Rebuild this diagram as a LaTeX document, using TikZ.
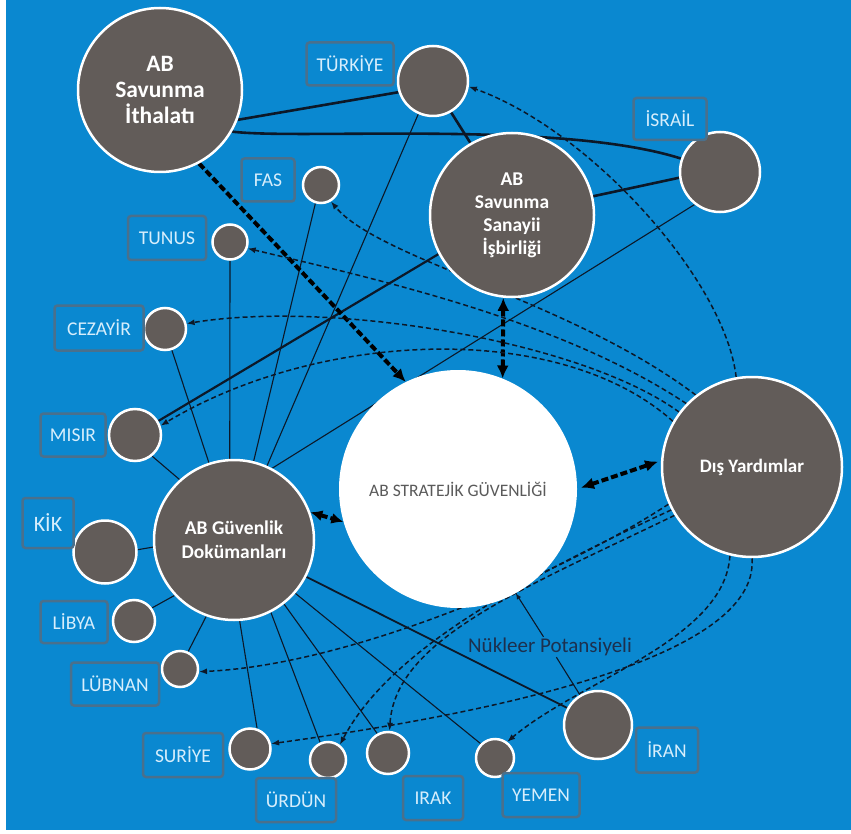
\documentclass[tikz,border=0pt]{standalone}
\usepackage{fontspec}
\setmainfont{Carlito}
\usetikzlibrary{arrows.meta}
\pgfdeclarelayer{back}
\pgfdeclarelayer{edges}
\pgfsetlayers{back,edges,main}
\definecolor{bgblue}{RGB}{10,136,208}
\definecolor{diskfill}{RGB}{98,92,89}
\definecolor{ink}{RGB}{12,24,40}
\definecolor{boxline}{RGB}{74,112,140}
\definecolor{boxtext}{RGB}{215,238,252}
\definecolor{nuktext}{RGB}{28,48,78}
\definecolor{ctext}{RGB}{90,90,90}
\begin{document}
\begin{tikzpicture}[x=1pt,y=-1pt,
  disk/.style={circle, fill=diskfill, draw=white, line width=2.5pt, inner sep=0pt, minimum size=#1},
  bigdisk/.style={disk=#1, text=white, align=center},
  tag/.style={rectangle, rounded corners=3pt, draw=boxline, line width=2.5pt, fill=bgblue, text=boxtext,
    font=\fontsize{19.5}{22}\selectfont, minimum height=43pt, inner sep=0pt},
  thinline/.style={draw=ink, line width=1.1pt},
  thickline/.style={draw=ink, line width=2.6pt},
  bigdash/.style={draw=black, line width=4pt, dash pattern=on 7pt off 3pt},
  smalldash/.style={draw=ink, line width=1.5pt, dash pattern=on 5pt off 3pt, -{Latex[length=8pt,width=6pt]}}
]
\useasboundingbox (0,0) rectangle (851,834);
\begin{pgfonlayer}{back}
\fill[bgblue] (6,0) rectangle (851,830);
\end{pgfonlayer}

% main circles
\node[bigdisk=164pt, font=\bfseries\fontsize{23.5}{26}\selectfont] (IT) at (160,90) {AB\\Savunma\\İthalatı};
\node[bigdisk=164pt, font=\bfseries\fontsize{19.5}{23}\selectfont] (SS) at (512,215) {AB\\Savunma\\Sanayii\\İşbirliği};
\node[bigdisk=160pt, font=\bfseries\fontsize{19.5}{24}\selectfont] (GD) at (234,540) {AB Güvenlik\\Dokümanları};
\node[bigdisk=180pt, font=\bfseries\fontsize{19}{22}\selectfont] (DY) at (752,467) {Dış Yardımlar};
\node[circle, fill=white, minimum size=238pt, inner sep=0pt, text=ctext, font=\fontsize{17.5}{20}\selectfont] (C) at (458,489) {AB STRATEJİK GÜVENLİĞİ};

% country circles
\node[disk=70pt] (TR) at (433,81) {};
\node[disk=80pt] (IS) at (720,172) {};
\node[disk=36pt] (FA) at (321,185) {};
\node[disk=35pt] (TU) at (230,242) {};
\node[disk=42pt] (CZ) at (165,329) {};
\node[disk=52pt] (MS) at (135,435) {};
\node[disk=63pt] (KK) at (105,552) {};
\node[disk=42pt] (LB) at (134,621) {};
\node[disk=36pt] (LU) at (180,669) {};
\node[disk=41pt] (SU) at (250,749) {};
\node[disk=36pt] (UR) at (328,760) {};
\node[disk=42pt] (IK) at (388,753) {};
\node[disk=38pt] (YE) at (495,758) {};
\node[disk=68pt] (IR) at (598,725) {};

% labels
\node[tag, minimum width=87pt] (tTR) at (350,64) {TÜRKİYE};
\node[tag, minimum width=73pt, minimum height=42pt] (tIS) at (670,119) {İSRAİL};
\node[tag, minimum width=53pt] (tFA) at (268,180) {FAS};
\node[tag, minimum width=78pt, minimum height=44pt] (tTU) at (167,238) {TUNUS};
\node[tag, minimum width=89pt, minimum height=45pt] (tCZ) at (99,328) {CEZAYİR};
\node[tag, minimum width=65pt] (tMS) at (73,435) {MISIR};
\node[tag, minimum width=51pt, minimum height=50pt, font=\fontsize{22}{24}\selectfont] (tKK) at (48,523) {KİK};
\node[tag, minimum width=67pt, minimum height=42pt] (tLB) at (74,622) {LİBYA};
\node[tag, minimum width=88pt] (tLU) at (115,684) {LÜBNAN};
\node[tag, minimum width=80pt, minimum height=44pt] (tSU) at (183,755) {SURİYE};
\node[tag, minimum width=80pt, minimum height=44pt] (tUR) at (296,800) {ÜRDÜN};
\node[tag, minimum width=60pt, minimum height=44pt] (tIK) at (433,798) {IRAK};
\node[tag, minimum width=77pt, minimum height=44pt] (tYE) at (541,795) {YEMEN};
\node[tag, minimum width=62pt, minimum height=45pt] (tIR) at (667,750) {İRAN};

\node[text=nuktext, font=\fontsize{21}{24}\selectfont, inner sep=1pt] (NK) at (550,647) {Nükleer Potansiyeli};

\begin{pgfonlayer}{edges}
% thin solid lines to AB Guvenlik Dokumanlari
\draw[thinline] (CZ.288) -- (GD.108);
\draw[thinline] (TU.270) -- (GD.93);
\draw[thinline] (FA.253) -- (GD.76);
\draw[thinline] (TR.246) -- (GD.66);
\draw[thinline] (IS.232) -- (GD.62);
\draw[thinline] (MS.309) -- (GD.132);
\draw[thinline] (KK.4) -- (GD.185);
\draw[thinline] (LB.36) -- (GD.223);
\draw[thinline] (LU.65) -- (GD.250);
\draw[thinline] (SU.71) -- (GD.274);
\draw[thinline] (UR.114) -- (GD.297);
\draw[thinline] (IK.119) -- (GD.308);
\draw[thinline] (YE.135) -- (GD.319);
\draw[thinline, line width=1.8pt] (IR.151) -- (GD.333);

% thick solid lines
\draw[thickline] (IT.339) -- (TR.198);
\draw[thickline] (IT.330) .. controls (300,140) and (560,120) .. (IS.161);
\draw[thickline] (TR.300) -- (SS.120);
\draw[thickline] (IS.188) -- (SS.13);
\draw[thickline, line width=2.2pt] (SS.208) -- (MS.31);

% thick dashed arrows
\draw[bigdash, -{Latex[length=13pt,width=12pt]}] (IT.298) -- (C.116);
\draw[bigdash, {Latex[length=13pt,width=12pt]}-{Latex[length=13pt,width=12pt]}] (SS.264) -- (C.68);
\draw[bigdash, {Latex[length=12pt,width=11pt]}-{Latex[length=12pt,width=11pt]}] (GD.20) -- (C.196);
\draw[bigdash, {Latex[length=13pt,width=12pt]}-{Latex[length=13pt,width=12pt]}, shorten <=4pt, shorten >=3pt] (C.0) -- (DY.176);

% thin dashed arrows from Dis Yardimlar
\draw[smalldash] (DY.100) .. controls (725,280) and (590,130) .. (TR.351);
\draw[smalldash] (DY.128) .. controls (570,300) and (380,260) .. (FA.301);
\draw[smalldash] (DY.136) .. controls (560,320) and (380,280) .. (TU.340);
\draw[smalldash] (DY.143) .. controls (580,340) and (330,300) .. (CZ.14);
\draw[smalldash] (DY.150) .. controls (560,320) and (320,330) .. (MS.20);
\draw[smalldash] (DY.204) .. controls (560,575) and (350,665) .. (LU.352);
\draw[smalldash] (DY.208) .. controls (520,580) and (390,650) .. (UR.52);
\draw[smalldash] (DY.212) .. controls (520,590) and (395,640) .. (IK.86);
\draw[smalldash] (DY.256) .. controls (725,640) and (580,680) .. (YE.53);
\draw[smalldash] (DY.270) .. controls (760,660) and (480,715) .. (SU.14);

% nuclear potential
\draw[thinline] (IR.121) -- (NK);
\draw[thinline, -{Latex[length=6pt,width=5pt]}] (NK) -- (C.299);
\end{pgfonlayer}
\end{tikzpicture}
\end{document}
